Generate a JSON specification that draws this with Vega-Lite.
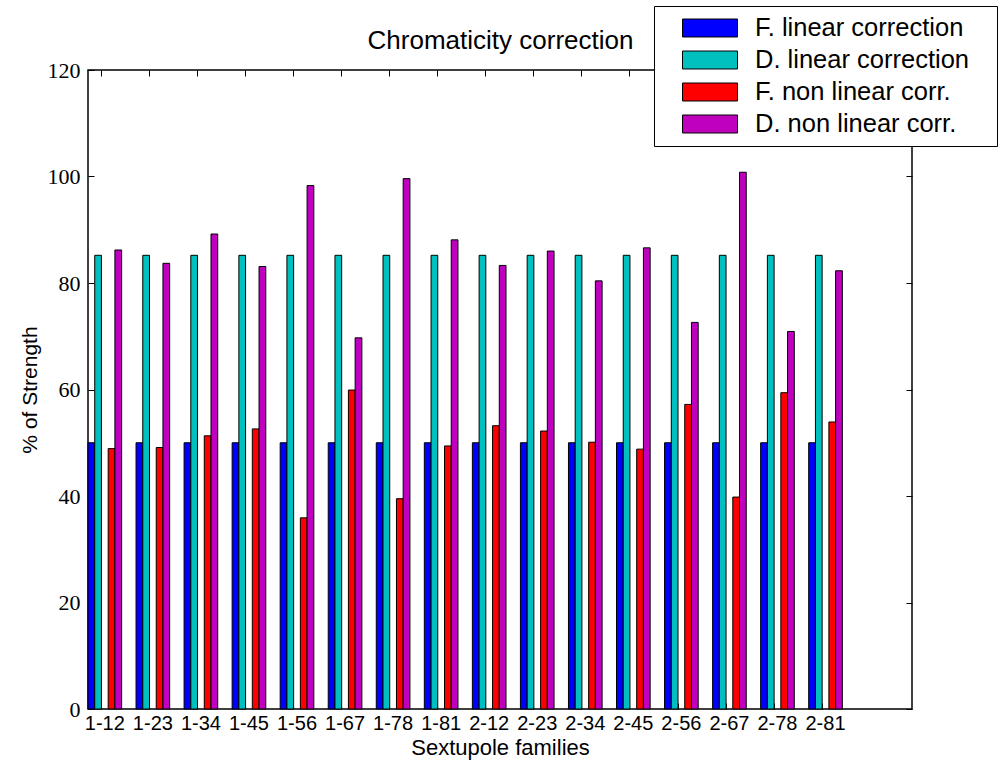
{
  "$schema": "https://vega.github.io/schema/vega-lite/v6.json",
  "width": 824,
  "height": 639,
  "autosize": "none",
  "padding": {"left": 88, "top": 70, "right": 92, "bottom": 54},
  "background": "white",
  "datasets": {
    "strength": [
      {"family": "1-12", "series": "F. linear correction", "value": 50},
      {"family": "1-12", "series": "D. linear correction", "value": 85.2},
      {"family": "1-12", "series": "F. non linear corr.", "value": 48.9},
      {"family": "1-12", "series": "D. non linear corr.", "value": 86.2},
      {"family": "1-23", "series": "F. linear correction", "value": 50},
      {"family": "1-23", "series": "D. linear correction", "value": 85.2},
      {"family": "1-23", "series": "F. non linear corr.", "value": 49.1},
      {"family": "1-23", "series": "D. non linear corr.", "value": 83.7},
      {"family": "1-34", "series": "F. linear correction", "value": 50},
      {"family": "1-34", "series": "D. linear correction", "value": 85.2},
      {"family": "1-34", "series": "F. non linear corr.", "value": 51.3},
      {"family": "1-34", "series": "D. non linear corr.", "value": 89.2},
      {"family": "1-45", "series": "F. linear correction", "value": 50},
      {"family": "1-45", "series": "D. linear correction", "value": 85.2},
      {"family": "1-45", "series": "F. non linear corr.", "value": 52.6},
      {"family": "1-45", "series": "D. non linear corr.", "value": 83.1},
      {"family": "1-56", "series": "F. linear correction", "value": 50},
      {"family": "1-56", "series": "D. linear correction", "value": 85.2},
      {"family": "1-56", "series": "F. non linear corr.", "value": 35.9},
      {"family": "1-56", "series": "D. non linear corr.", "value": 98.3},
      {"family": "1-67", "series": "F. linear correction", "value": 50},
      {"family": "1-67", "series": "D. linear correction", "value": 85.2},
      {"family": "1-67", "series": "F. non linear corr.", "value": 59.9},
      {"family": "1-67", "series": "D. non linear corr.", "value": 69.7},
      {"family": "1-78", "series": "F. linear correction", "value": 50},
      {"family": "1-78", "series": "D. linear correction", "value": 85.2},
      {"family": "1-78", "series": "F. non linear corr.", "value": 39.5},
      {"family": "1-78", "series": "D. non linear corr.", "value": 99.6},
      {"family": "1-81", "series": "F. linear correction", "value": 50},
      {"family": "1-81", "series": "D. linear correction", "value": 85.2},
      {"family": "1-81", "series": "F. non linear corr.", "value": 49.4},
      {"family": "1-81", "series": "D. non linear corr.", "value": 88.1},
      {"family": "2-12", "series": "F. linear correction", "value": 50},
      {"family": "2-12", "series": "D. linear correction", "value": 85.2},
      {"family": "2-12", "series": "F. non linear corr.", "value": 53.2},
      {"family": "2-12", "series": "D. non linear corr.", "value": 83.3},
      {"family": "2-23", "series": "F. linear correction", "value": 50},
      {"family": "2-23", "series": "D. linear correction", "value": 85.2},
      {"family": "2-23", "series": "F. non linear corr.", "value": 52.2},
      {"family": "2-23", "series": "D. non linear corr.", "value": 86.0},
      {"family": "2-34", "series": "F. linear correction", "value": 50},
      {"family": "2-34", "series": "D. linear correction", "value": 85.2},
      {"family": "2-34", "series": "F. non linear corr.", "value": 50.1},
      {"family": "2-34", "series": "D. non linear corr.", "value": 80.4},
      {"family": "2-45", "series": "F. linear correction", "value": 50},
      {"family": "2-45", "series": "D. linear correction", "value": 85.2},
      {"family": "2-45", "series": "F. non linear corr.", "value": 48.8},
      {"family": "2-45", "series": "D. non linear corr.", "value": 86.6},
      {"family": "2-56", "series": "F. linear correction", "value": 50},
      {"family": "2-56", "series": "D. linear correction", "value": 85.2},
      {"family": "2-56", "series": "F. non linear corr.", "value": 57.2},
      {"family": "2-56", "series": "D. non linear corr.", "value": 72.6},
      {"family": "2-67", "series": "F. linear correction", "value": 50},
      {"family": "2-67", "series": "D. linear correction", "value": 85.2},
      {"family": "2-67", "series": "F. non linear corr.", "value": 39.8},
      {"family": "2-67", "series": "D. non linear corr.", "value": 100.8},
      {"family": "2-78", "series": "F. linear correction", "value": 50},
      {"family": "2-78", "series": "D. linear correction", "value": 85.2},
      {"family": "2-78", "series": "F. non linear corr.", "value": 59.4},
      {"family": "2-78", "series": "D. non linear corr.", "value": 70.9},
      {"family": "2-81", "series": "F. linear correction", "value": 50},
      {"family": "2-81", "series": "D. linear correction", "value": 85.2},
      {"family": "2-81", "series": "F. non linear corr.", "value": 53.9},
      {"family": "2-81", "series": "D. non linear corr.", "value": 82.3}
    ]
  },
  "data": {"name": "strength"},
  "layer": [
    {
      "mark": {"type": "bar", "stroke": "black", "strokeWidth": 1},
      "encoding": {
        "x": {
          "field": "family",
          "type": "nominal",
          "sort": null,
          "scale": {"paddingInner": 0.3, "paddingOuter": 0.725, "align": 0},
          "axis": {
            "orient": "bottom",
            "title": "Sextupole families",
            "titleFont": "Liberation Sans",
            "titleFontSize": 22,
            "titleFontWeight": "normal",
            "titlePadding": 4,
            "labelFont": "Liberation Sans",
            "labelFontSize": 20,
            "labelAngle": 0,
            "labelPadding": 10,
            "labelOverlap": false,
            "tickSize": -6,
            "bandPosition": 0.4
          }
        },
        "xOffset": {
          "field": "series",
          "type": "nominal",
          "scale": {
            "domain": ["F. linear correction", "D. linear correction", "gap", "F. non linear corr.", "D. non linear corr."],
            "paddingInner": 0,
            "paddingOuter": 0
          }
        },
        "y": {
          "field": "value",
          "type": "quantitative",
          "scale": {"domain": [0, 120], "nice": false},
          "axis": {
            "orient": "left",
            "title": "% of Strength",
            "titleFont": "Liberation Sans",
            "titleFontSize": 21,
            "titleFontWeight": "normal",
            "titlePadding": 7,
            "labelFont": "Liberation Serif",
            "labelFontSize": 22,
            "labelPadding": 14,
            "values": [0, 20, 40, 60, 80, 100, 120],
            "tickSize": -6
          }
        },
        "color": {
          "field": "series",
          "type": "nominal",
          "scale": {
            "domain": ["F. linear correction", "D. linear correction", "F. non linear corr.", "D. non linear corr."],
            "range": ["#0000ff", "#00bfbf", "#ff0000", "#bf00bf"]
          },
          "legend": {
            "orient": "none",
            "legendX": 566,
            "legendY": -64,
            "title": null,
            "padding": 6,
            "clipHeight": 32,
            "rowPadding": 0,
            "symbolType": "M-1,-0.327H1V0.327H-1Z",
            "symbolSize": 3025,
            "symbolOffset": 22,
            "symbolStrokeColor": "black",
            "symbolStrokeWidth": 1,
            "symbolOpacity": 1,
            "labelOffset": 17,
            "labelFont": "Liberation Sans",
            "labelFontSize": 25.5,
            "labelColor": "black",
            "labelLimit": 0,
            "labelExpr": "datum.label + '\u00a0\u00a0\u00a0\u200b'",
            "strokeColor": "black",
            "fillColor": "white"
          }
        }
      }
    },
    {
      "mark": {"type": "bar", "opacity": 0},
      "encoding": {
        "x": {
          "field": "family",
          "type": "nominal",
          "sort": null,
          "axis": {
            "orient": "top",
            "labels": false,
            "title": "Chromaticity correction",
            "titleFont": "Liberation Sans",
            "titleFontSize": 26,
            "titleFontWeight": "normal",
            "titlePadding": 16,
            "tickSize": -6,
            "bandPosition": 0.4
          }
        },
        "xOffset": {"field": "series", "type": "nominal"},
        "y": {
          "field": "value",
          "type": "quantitative",
          "axis": {
            "orient": "right",
            "labels": false,
            "title": null,
            "values": [0, 20, 40, 60, 80, 100, 120],
            "tickSize": -6
          }
        }
      }
    }
  ],
  "resolve": {"axis": {"x": "independent", "y": "independent"}},
  "config": {
    "font": "Liberation Sans",
    "view": {"stroke": "black", "strokeWidth": 1.5},
    "axis": {
      "domain": false,
      "grid": false,
      "tickColor": "black",
      "tickWidth": 1,
      "labelColor": "black",
      "titleColor": "black"
    }
  }
}
